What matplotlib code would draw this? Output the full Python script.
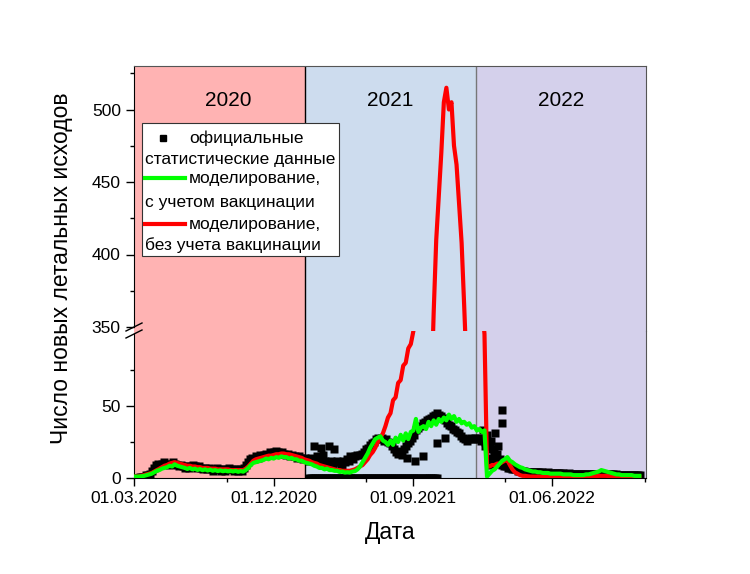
import numpy as np
import matplotlib
matplotlib.use('Agg')
import matplotlib.pyplot as plt
from matplotlib.lines import Line2D
from matplotlib.patches import Rectangle

plt.rcParams['font.family'] = ['Liberation Sans', 'DejaVu Sans']

# days counted from 01.03.2020
days5 = np.arange(0, 1000, 5)
days4 = np.arange(0, 1000, 4)

# model with vaccination (green)
green = [1, 1, 1, 1.2, 1.5, 2, 2.5, 3, 4, 5,
         5.5, 6.5, 7, 7.5, 8.5, 8, 9.5, 8.5, 8, 7.5,
         7, 6.3, 7, 6, 6.5, 5.6, 6.2, 5.4, 6, 5.2,
         5.8, 5, 5.5, 4.8, 5.3, 4.7, 5.1, 4.6, 5, 4.5,
         5, 4.3, 4.8, 4.4, 5.5, 7, 9, 10.5, 11, 11.5,
         12, 12.5, 13.5, 13, 14, 13.5, 14.5, 14, 15, 14.5,
         14.5, 13.5, 14, 13, 13, 12, 12, 11, 10.5, 10,
         9.5, 8.5, 8, 7, 7, 6, 6.5, 5.5, 5.5, 5,
         5, 4.2, 4.5, 3.8, 4, 3.8, 4.5, 4.8, 6, 8,
         11, 14, 17, 21, 24, 27, 28, 29, 26, 25,
         23, 26, 23, 28, 25, 30, 26, 31, 27, 32,
         33, 41, 32, 35, 36, 34, 39, 36, 40, 37,
         41, 39, 42, 40, 44, 41, 43, 39, 41, 38,
         39, 37, 38, 35, 36, 33, 34, 32, 33, 1,
         3, 5, 6, 8, 10, 12, 13, 14.5, 12, 11,
         9.5, 8.5, 7.5, 7, 6, 5.5, 5, 4.5, 4.5, 4,
         4, 3.5, 3.5, 3.5, 3, 3, 3, 3, 3, 2.5,
         2.5, 2.5, 2.5, 2, 2, 2, 2, 2, 2.5, 2.5,
         3, 3.5, 4, 4.5, 5.5, 5, 4.5, 4, 3.5, 3,
         2.5, 2.5, 2, 2, 2, 2, 2, 1.5, 1.5, 1.5]

# model without vaccination (red)
red = [1, 1, 1.2, 1.5, 2, 2.5, 3, 3.5, 4.5, 5.5,
       6.5, 7.5, 8.5, 9, 10, 10.5, 11, 10.5, 10, 9.5,
       9, 8.5, 8.5, 8, 8, 7.5, 7.5, 7, 7, 7,
       6.5, 6.5, 6.5, 6, 6, 6, 6, 6, 5.5, 5.5,
       5.5, 5.5, 5.5, 5.5, 6.5, 8, 10, 12, 13, 13.5,
       14, 14.5, 15, 15.5, 15.5, 16, 16.5, 16.5, 17, 17,
       16.5, 16.5, 16, 15.5, 15, 14.5, 14, 13, 12.5, 12,
       11, 10.5, 10, 9, 8.5, 8, 7.5, 7, 6.5, 6,
       5.5, 5.5, 5, 5, 5, 5, 5.5, 6, 7, 8,
       9, 11, 13, 16, 18, 21, 25, 28, 31, 36,
       42, 45, 54, 56, 66, 68, 78, 80, 90, 93,
       102, 120, 140, 165, 190, 225, 260, 300, 360, 410,
       440, 470, 505, 515, 500, 505, 475, 462, 435, 408,
       365, 320, 270, 230, 190, 160, 140, 120, 100, 8,
       8, 9, 9, 10, 10, 11, 12, 12.5, 9, 6,
       4, 3, 2, 1.5, 1.5, 1.2, 1, 1, 1, 1,
       1, 1, 1, 1, 0.8, 0.8, 0.8, 0.8, 0.8, 0.8,
       0.8, 0.8, 0.8, 0.8, 0.8, 0.8, 0.8, 0.8, 0.8, 1,
       1, 1.2, 1.2, 1.5, 1.5, 1.5, 1.5, 1.2, 1.2, 1,
       1, 1, 0.8, 0.8, 0.8, 0.8, 0.8, 0.8, 0.8, 0.8]

# official statistics (black squares)
stats = [0, 0, 0, 1, 1, 1, 2, 2, 3, 5,
         7, 9, 10, 9, 10, 11, 10, 9, 10, 11,
         10, 9, 8, 9, 8, 7, 8, 7, 8, 9,
         8, 7, 8, 7, 6, 7, 6, 7, 6, 5,
         6, 7, 6, 5, 6, 5, 6, 7, 6, 5,
         6, 5, 6, 5, 7, 9, 11, 13, 14, 13,
         15, 14, 16, 15, 16, 17, 16, 18, 17, 18,
         19, 18, 17, 18, 17, 16, 17, 15, 16, 15,
         14, 15, 14, 13, 14, 13, 12, 14, 12, 13,
         11, 12, 13, 11, 12, 10, 11, 12, 10, 11,
         12, 11, 10, 12, 11, 13, 12, 14, 13, 15,
         16, 16, 17, 18, 20, 21, 23, 24, 25, 27,
         28, 27, 28, 26, 27, 25, 24, 22, 20, 18,
         17, 19, 16, 20, 22, 24, 26, 28, 30, 33,
         35, 36, 38, 39, 40, 41, 42, 43, 44, 45,
         44, 43, 42, 40, 38, 37, 36, 34, 33, 32,
         31, 29, 28, 27, 26, 27, 28, 27, 28, 27,
         28, 26, 27, 25, 24, 22, 20, 16, 14, 12,
         10, 9, 8, 8, 7, 7, 6, 6, 6, 5,
         5, 5, 5, 4.5, 4.5, 4.5, 4, 4, 4, 4,
         4, 4, 3.5, 3.5, 4, 3.5, 3.5, 3.5, 3.5, 3.5,
         3.5, 3.5, 3, 3, 3.5, 3, 3, 3, 3, 3,
         3, 3, 3, 3, 3, 2.5, 2.5, 2.5, 2.5, 2.5,
         2.5, 2.5, 2.5, 2.5, 2.5, 2.5, 2.5, 2.5, 2, 2,
         2, 2, 2, 2, 2, 2, 2, 2, 2, 2]

# scattered official points and zero-reported days
out_days = [355, 361, 369, 372, 383, 393, 410, 425, 537, 553, 569, 597, 613,
            688, 692, 695, 698, 700, 703, 705, 708, 710, 714, 717, 720, 724, 724]
out_vals = [22, 15, 21, 16, 22, 20, 9, 15, 14, 12, 15, 24, 28,
            33, 22, 30, 12, 9, 26, 14, 20, 31, 17, 22, 13, 47, 38]
zero_days = np.arange(344, 600, 4)

tick_pos = [0, 275, 549, 822]
tick_lab = ['01.03.2020', '01.12.2020', '01.09.2021', '01.06.2022']
minor_pos = [183, 457, 731, 1006]

year_bounds = [0, 337, 674, 1008]
year_cols = ['#FFB3B3', '#CDDCEE', '#D4D0EB']
year_names = ['2020', '2021', '2022']
year_x = [185, 505, 840]

fig = plt.figure(figsize=(7.5, 5.74), dpi=100)
L, W = 134/750, 512/750
mid = (574-330.5)/574
bot = (574-478)/574
top = (574-66)/574
ax_lo = fig.add_axes([L, bot, W, mid-bot])
ax_hi = fig.add_axes([L, mid, W, top-mid])

for ax in (ax_lo, ax_hi):
    for i in range(3):
        ax.axvspan(year_bounds[i], year_bounds[i+1], color=year_cols[i], lw=0, zorder=0)
    ax.axvline(year_bounds[1], color='black', lw=1, zorder=1)
    ax.axvline(year_bounds[2], color='#777777', lw=1, zorder=1)
    ax.plot(days4, stats, 's', color='black', ms=5.5, mec='none', zorder=2)
    ax.plot(out_days, out_vals, 's', color='black', ms=5.5, mec='none', zorder=2)
    ax.plot(zero_days, np.zeros(len(zero_days)), 's', color='black', ms=5.5, mec='none', zorder=2)
    ax.plot(days5, red, color='#FF0000', lw=3, zorder=3)
    ax.plot(days5, green, color='#00FF00', lw=3, zorder=4)
    ax.set_xlim(0, 1008)
    ax.spines['right'].set_color('#555555')
    ax.spines['top'].set_color('#555555')
    ax.tick_params(axis='both', which='major', direction='out', length=6, width=1, labelsize=12.5)
    ax.tick_params(axis='both', which='minor', direction='out', length=3, width=1)

ax_lo.set_ylim(0, (478-330.5)/1.44)
ax_hi.set_ylim(350 - 3.5/1.45, 530)
ax_lo.spines['top'].set_visible(False)
ax_hi.spines['bottom'].set_visible(False)
ax_lo.spines['left'].set_bounds(0, 100)
ax_hi.spines['left'].set_bounds(350, 530)

ax_lo.set_yticks([0, 50])
ax_lo.set_yticks([25, 75], minor=True)
ax_hi.set_yticks([350, 400, 450, 500])
ax_hi.set_yticks([375, 425, 475, 525], minor=True)
ax_lo.set_xticks(tick_pos)
ax_lo.set_xticklabels(tick_lab)
ax_lo.set_xticks(minor_pos, minor=True)
ax_hi.set_xticks([])
ax_hi.tick_params(axis='x', which='both', bottom=False, labelbottom=False)

# break marks on the y axis
for yp in (327, 334):
    yf = (574-yp)/574
    fig.add_artist(Line2D([L-8/750, L+8/750], [yf-4/574, yf+4/574], color='black', lw=1))

for i in range(3):
    ax_hi.text(year_x[i], 506.5, year_names[i], ha='center', va='center', fontsize=15)

# legend box
tr = ax_hi.transAxes
ax_hi.add_patch(Rectangle((0.0156, 0.2835), 0.3848, 0.5019, transform=tr,
                          facecolor='white', edgecolor='#333333', lw=0.8, zorder=5))
fs = 12.5
ax_hi.plot([0.0566], [0.728], 's', color='black', ms=5, transform=tr, zorder=6)
ax_hi.text(0.1074, 0.728, 'официальные', transform=tr, va='center', fontsize=fs, zorder=6)
ax_hi.text(0.0215, 0.648, 'статистические данные', transform=tr, va='center', fontsize=fs, zorder=6)
ax_hi.plot([0.0215, 0.0996], [0.575, 0.575], color='#00FF00', lw=3, transform=tr, zorder=6)
ax_hi.text(0.1074, 0.575, 'моделирование,', transform=tr, va='center', fontsize=fs, zorder=6)
ax_hi.text(0.0215, 0.483, 'с учетом вакцинации', transform=tr, va='center', fontsize=fs, zorder=6)
ax_hi.plot([0.0215, 0.0996], [0.402, 0.402], color='#FF0000', lw=3, transform=tr, zorder=6)
ax_hi.text(0.1074, 0.402, 'моделирование,', transform=tr, va='center', fontsize=fs, zorder=6)
ax_hi.text(0.0215, 0.322, 'без учета вакцинации', transform=tr, va='center', fontsize=fs, zorder=6)

fig.text(62/750, (574-268)/574, 'Число новых летальных исходов', rotation=90,
         ha='center', va='center', fontsize=16.5)
fig.text(390/750, (574-533)/574, 'Дата', ha='center', va='center', fontsize=16.5)

fig.savefig('out.png', dpi=100)
